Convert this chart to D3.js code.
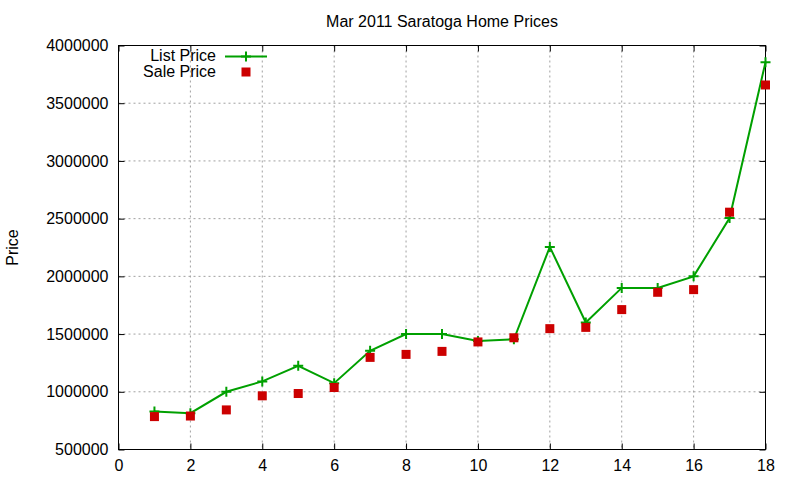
<!DOCTYPE html>
<html>
<head>
<meta charset="utf-8">
<script src="https://cdn.jsdelivr.net/npm/d3@7.9.0/dist/d3.min.js"></script>
<style>
  body { margin: 0; background: #fff; }
  svg { display: block; font-family: "Liberation Sans", Arial, sans-serif; }
  .grid line { stroke: #a0a0a0; stroke-dasharray: 2,3; stroke-width: 1; }
</style>
</head>
<body>
<svg id="chart" width="800" height="480"></svg>
<script>
// Data
const homes = [1, 2, 3, 4, 5, 6, 7, 8, 9, 10, 11, 12, 13, 14, 15, 16, 17, 18];
const listPrice = [830000, 815000, 1000000, 1090000, 1225000, 1075000, 1355000, 1500000, 1500000,
  1440000, 1455000, 2255000, 1600000, 1900000, 1900000, 2000000, 2505000, 3855000];
const salePrice = [785000, 790000, 843000, 965000, 985000, 1037000, 1298000, 1324000, 1350000,
  1432000, 1468000, 1547000, 1558000, 1712000, 1862000, 1885000, 2556000, 3658000];
const xTicks = [0, 2, 4, 6, 8, 10, 12, 14, 16, 18];
const yTicks = [500000, 1000000, 1500000, 2000000, 2500000, 3000000, 3500000, 4000000];

const svg = d3.select('#chart');
const plotL = 118.5, plotR = 765.5, plotT = 45.5, plotB = 449.5;

const x = d3.scaleLinear().domain([0, 18]).range([plotL, plotR]);
const y = d3.scaleLinear().domain([500000, 4000000]).range([plotB, plotT]);

const green = '#00a000';
const red = '#cc0000';

// grid
const grid = svg.append('g').attr('class', 'grid');
grid.selectAll('.gx').data(xTicks.slice(1, -1)).join('line')
  .attr('x1', d => x(d)).attr('x2', d => x(d))
  .attr('y1', plotT).attr('y2', plotB);
grid.selectAll('.gy').data(yTicks.slice(1, -1)).join('line')
  .attr('x1', plotL).attr('x2', plotR)
  .attr('y1', d => y(d)).attr('y2', d => y(d));

// axes with inward ticks, mirrored on the other side
const tickLen = 6;
svg.append('g').attr('transform', `translate(0,${plotB})`)
  .call(d3.axisBottom(x).tickValues(xTicks).tickSizeInner(-tickLen).tickSizeOuter(0).tickPadding(10))
  .call(g => g.select('.domain').remove());
svg.append('g').attr('transform', `translate(0,${plotT})`)
  .call(d3.axisTop(x).tickValues(xTicks).tickSizeInner(-tickLen).tickSizeOuter(0).tickFormat(''))
  .call(g => g.select('.domain').remove());
svg.append('g').attr('transform', `translate(${plotL},0)`)
  .call(d3.axisLeft(y).tickValues(yTicks).tickSizeInner(-tickLen).tickSizeOuter(0).tickPadding(10).tickFormat(d3.format('d')))
  .call(g => g.select('.domain').remove());
svg.append('g').attr('transform', `translate(${plotR},0)`)
  .call(d3.axisRight(y).tickValues(yTicks).tickSizeInner(-tickLen).tickSizeOuter(0).tickFormat(''))
  .call(g => g.select('.domain').remove());

svg.selectAll('.tick text').attr('font-size', 16).attr('fill', '#000')
  .attr('font-family', '"Liberation Sans", Arial, sans-serif');
svg.selectAll('.tick line').attr('stroke', '#000');

// frame
svg.append('rect')
  .attr('x', plotL).attr('y', plotT)
  .attr('width', plotR - plotL).attr('height', plotB - plotT)
  .attr('fill', 'none').attr('stroke', '#000').attr('stroke-width', 1);

// list price line
const line = d3.line().x((d, i) => x(homes[i])).y(d => y(d));
svg.append('path')
  .datum(listPrice)
  .attr('d', line)
  .attr('fill', 'none')
  .attr('stroke', green)
  .attr('stroke-width', 2);

svg.selectAll('.plus').data(listPrice).join('path')
  .attr('d', 'M-5,0H5M0,-5V5')
  .attr('transform', (d, i) => `translate(${x(homes[i])},${y(d)})`)
  .attr('stroke', green)
  .attr('stroke-width', 2);

// sale price squares
svg.selectAll('.sq').data(salePrice).join('rect')
  .attr('x', (d, i) => x(homes[i]) - 4.5)
  .attr('y', d => y(d) - 4.5)
  .attr('width', 9).attr('height', 9)
  .attr('fill', red);

// title and y label
svg.append('text')
  .attr('x', (plotL + plotR) / 2).attr('y', 27)
  .attr('text-anchor', 'middle').attr('font-size', 16)
  .text('Mar 2011 Saratoga Home Prices');

svg.append('text')
  .attr('transform', `translate(18,${(plotT + plotB) / 2}) rotate(-90)`)
  .attr('text-anchor', 'middle').attr('font-size', 16)
  .text('Price');

// legend
const legend = svg.append('g');
legend.append('text').attr('x', 216).attr('y', 61)
  .attr('text-anchor', 'end').attr('font-size', 16).text('List Price');
legend.append('line').attr('x1', 225).attr('x2', 267).attr('y1', 56.5).attr('y2', 56.5)
  .attr('stroke', green).attr('stroke-width', 2);
legend.append('path').attr('d', 'M-5,0H5M0,-5V5')
  .attr('transform', 'translate(246,56.5)')
  .attr('stroke', green).attr('stroke-width', 2);
legend.append('text').attr('x', 216).attr('y', 77)
  .attr('text-anchor', 'end').attr('font-size', 16).text('Sale Price');
legend.append('rect').attr('x', 241.5).attr('y', 67.5).attr('width', 9).attr('height', 9)
  .attr('fill', red);
</script>
</body>
</html>
